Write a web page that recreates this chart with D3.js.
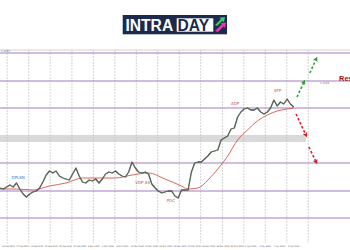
<!DOCTYPE html>
<html><head><meta charset="utf-8">
<script src="https://cdn.jsdelivr.net/npm/d3@7"></script>
<style>html,body{margin:0;padding:0;background:#fff;overflow:hidden}</style>
</head><body>
<svg id="c" width="350" height="250"></svg>
<script>
// ---- data ----
const closes = [1.1162,1.1161,1.1163,1.1165,1.1163,1.1167,1.1161,1.1156,1.1153,1.1156,
1.1158,1.1159,1.1162,1.1168,1.1175,1.1179,1.1177,1.1179,1.1174,1.1172,
1.1171,1.1170,1.1176,1.1182,1.1174,1.1168,1.1167,1.1170,1.1169,1.1171,
1.1167,1.1171,1.1176,1.1178,1.1177,1.1179,1.1176,1.1174,1.1173,1.1178,
1.1188,1.1182,1.1178,1.1177,1.1178,1.1176,1.1166,1.1162,1.1159,1.1157,
1.1158,1.1159,1.1159,1.1154,1.1152,1.1160,1.1160,1.1160,1.1178,1.1187,
1.1188,1.1188,1.1191,1.1194,1.1198,1.1199,1.1200,1.1210,1.1212,1.1214,
1.1221,1.1222,1.1233,1.1238,1.1241,1.1242,1.1240,1.1240,1.1242,1.1238,
1.1236,1.1238,1.1242,1.1250,1.1244,1.1248,1.1246,1.1251,1.1246,1.1243];
const maBars   = [0,5,10,15,20,25,30,35,40,45,50,55,57,60,63,66,69,72,75,78,81,84,87,89];
const maValues = [1.1161,1.1161,1.1160,1.1164,1.1167,1.1172,1.1172,1.1172,1.1175,1.1177,
1.1171,1.1164,1.1161,1.1162,1.1170,1.1181,1.1194,1.1210,1.1220,1.1229,1.1235,1.1239,1.1241,1.1242];
const levels = [1.1297,1.1269,1.1242,1.1187,1.1159,1.1132];
const zoneLow = 1.1208, zoneHigh = 1.1215, zoneEndBar = 92.7;
const gridBars = [2.2,8.7,15.2,21.8,28.3,34.8,41.3,47.8,54.3,60.8,67.4,73.9,80.4,86.9,93.4];
const dateLabels = ["14 Feb 2020","17 Feb 2020","19 Feb 2020","21 Feb 2020","25 Feb 2020","27 Feb 2020",
"2 Mar 2020","4 Mar 2020","6 Mar 2020","10 Mar 2020","12 Mar 2020","16 Mar 2020","18 Mar 2020",
"20 Mar 2020","24 Mar 2020","26 Mar 2020","30 Mar 2020","1 Apr 2020","3 Apr 2020","7 Apr 2020","9 Apr 2020"];
const notes = [
  {t:"DPLSN", bar:3.5, p:1.1171, c:"#3a6fc8"},
  {t:"VDP AS", bar:41, p:1.1166, c:"#c85050"},
  {t:"POC", bar:50.5, p:1.1148, c:"#c85050"},
  {t:"ADP", bar:70, p:1.1245, c:"#c85050"},
  {t:"SFP", bar:83, p:1.1258, c:"#c85050"}
];
const upArrows = [[90,1.1253,92.1,1.1268],[93.9,1.1277,95.8,1.1291]];
const downArrows = [[89.7,1.1236,92.7,1.1215],[93.6,1.1203,95.8,1.1188]];

// ---- scales ----
const svg = d3.select("#c");
const x = d3.scaleLinear().domain([0,89]).range([0,293.7]);
const y = d3.scaleLinear().domain([1.1107,1.1300]).range([243,50]);
const yTop = 50, yBottom = 243;

// logo
const logo = svg.append("g");
logo.append("rect").attr("x",122.7).attr("y",15).attr("width",104.3).attr("height",19.3).attr("fill","#1c2b4d");
logo.append("rect").attr("x",176.7).attr("y",18.3).attr("width",36.6).attr("height",13.4).attr("fill","#fff");
logo.append("text").attr("x",125.5).attr("y",30.8).attr("font-family","Liberation Sans, Arial, sans-serif")
  .attr("font-weight","bold").attr("font-size",15.6).attr("fill","#fff").text("INTRA");
logo.append("text").attr("x",177.6).attr("y",30.8).attr("font-family","Liberation Sans, Arial, sans-serif")
  .attr("font-weight","bold").attr("font-size",15.6).attr("fill","#1c2b4d").text("DAY");
logo.append("path").attr("d","M215,25 L221,19 L219,18 L225,17 L224,22 L222,21 L217,26 Z").attr("fill","#3ecf6a");
logo.append("path").attr("d","M215,31 L222,24 L220,23 L226,22.5 L225,28 L223.5,26.5 L218,32 Z").attr("fill","#e03aa8");

// frame top
svg.append("line").attr("x1",0).attr("x2",350).attr("y1",yTop).attr("y2",yTop).attr("stroke","#c8c8c8").attr("stroke-width",0.8);

// gray zone
svg.append("rect").attr("x",x(0)).attr("width",x(zoneEndBar)-x(0))
  .attr("y",y(zoneHigh)).attr("height",y(zoneLow)-y(zoneHigh)).attr("fill","#d9d9d9");

// vertical grid
svg.append("g").selectAll("line").data(gridBars).join("line")
  .attr("x1",d=>x(d)).attr("x2",d=>x(d)).attr("y1",yTop).attr("y2",yBottom)
  .attr("stroke","#c2c2c2").attr("stroke-width",0.7).attr("stroke-dasharray","2,1");

// levels
svg.append("g").selectAll("line").data(levels).join("line")
  .attr("x1",0).attr("x2",350).attr("y1",d=>y(d)).attr("y2",d=>y(d))
  .attr("stroke","#a57ac4").attr("stroke-width",1);

// price labels
svg.append("text").attr("x",1).attr("y",y(levels[0])-0.8).attr("font-size",2.6)
  .attr("font-family","DejaVu Sans, sans-serif").attr("fill","#666").text(levels[0].toFixed(4));
svg.append("text").attr("x",320).attr("y",y(levels[1])+3.2).attr("font-size",2.6)
  .attr("font-family","DejaVu Sans, sans-serif").attr("fill","#666").text(levels[1].toFixed(4));

// MA
svg.append("path").datum(maBars.map((b,i)=>[b,maValues[i]]))
  .attr("d",d3.line().x(d=>x(d[0])).y(d=>y(d[1])).curve(d3.curveMonotoneX))
  .attr("fill","none").attr("stroke","#d9534f").attr("stroke-width",0.9);

// price
svg.append("path").datum(closes)
  .attr("d",d3.line().x((d,i)=>x(i)).y(d=>y(d)))
  .attr("fill","none").attr("stroke","#3a4a3a").attr("stroke-width",1.3).attr("stroke-linejoin","round");
svg.append("path").datum(closes)
  .attr("d",d3.line().x((d,i)=>x(i)).y(d=>y(d)))
  .attr("fill","none").attr("stroke","#8a9a8a").attr("stroke-width",0.4);

// notes
svg.append("g").selectAll("text").data(notes).join("text")
  .attr("x",d=>x(d.bar)).attr("y",d=>y(d.p)).attr("font-size",4)
  .attr("font-family","DejaVu Sans, sans-serif").attr("fill",d=>d.c).text(d=>d.t);

// arrows
const defs = svg.append("defs");
[["ag","#2e9e2e"],["ar","#d42020"]].forEach(([id,c])=>{
  defs.append("marker").attr("id",id).attr("viewBox","0 0 10 10").attr("refX",5).attr("refY",5)
    .attr("markerWidth",3.2).attr("markerHeight",3.2).attr("orient","auto")
    .append("path").attr("d","M0,0 L10,5 L0,10 L3,5 Z").attr("fill",c);
});
function arrows(data,color,mk){
  svg.append("g").selectAll("line").data(data).join("line")
    .attr("x1",d=>x(d[0])).attr("y1",d=>y(d[1])).attr("x2",d=>x(d[2])).attr("y2",d=>y(d[3]))
    .attr("stroke",color).attr("stroke-width",1.6).attr("stroke-dasharray","2.5,2")
    .attr("marker-end",`url(#${mk})`);
}
arrows(upArrows,"#2e9e2e","ag");
arrows(downArrows,"#d42020","ar");

// Resistance
svg.append("text").attr("x",339).attr("y",80.5).attr("font-size",7.5).attr("font-weight","bold")
  .attr("font-family","Liberation Sans, Arial, sans-serif").attr("fill","#a01010").text("Resistance");

// date axis
const xd = d3.scalePoint().domain(dateLabels).range([2,288]);
svg.append("g").selectAll("text").data(dateLabels).join("text")
  .attr("x",d=>xd(d)).attr("y",247).attr("font-size",2.1)
  .attr("font-family","DejaVu Sans, sans-serif").attr("fill","#555").text(d=>d);
</script>
</body></html>
